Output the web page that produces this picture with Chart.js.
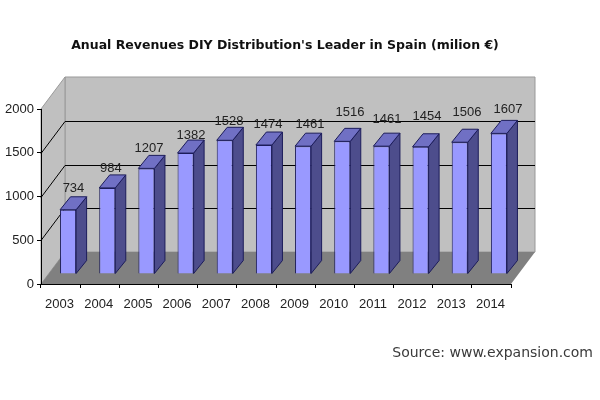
<!DOCTYPE html>
<html>
<head>
<meta charset="utf-8">
<script src="https://cdn.jsdelivr.net/npm/chart.js@4"></script>
<style>
    html, body { margin: 0; padding: 0; background: #fff; }
    #wrap   { position: absolute; left: 0; top: 0; width: 600px; height: 400px; }
    #source { position: absolute; right: 7px; top: 344px; font: 14px "DejaVu Sans", sans-serif; color: #3a3a3a; white-space: nowrap; }
</style>
</head>
<body>
<div id="wrap"><canvas id="graph" width="600" height="400"></canvas></div>
<div id="source">Source: www.expansion.com</div>
<script>
const years  = ["2003","2004","2005","2006","2007","2008","2009","2010","2011","2012","2013","2014"];
const sales  = [734,984,1207,1382,1528,1474,1461,1516,1461,1454,1506,1607];
const yTicks = [0,500,1000,1500,2000];

// depth of the fake 3D box, bar position inside it, and depth of one bar
const box_dx = 24, box_dy = -32;
const bar_dx = 7.5, bar_dy = -10;
const side_dx = 10.5, side_dy = -13;

// the value labels sit by hand in the original, so each one has its own shift from the bar top
const label_dx = [5.4,3.7,2.6,5.4,4.2,4.1,6.9,7.7,5.6,6.4,7.2,9.1];
const label_dy = [-21.8,-19.9,-20.4,-18,-19.3,-21,-22,-29,-27,-30,-30,-24];

function poly(ctx, pts, fill, stroke){
    ctx.beginPath();
    ctx.moveTo(pts[0][0], pts[0][1]);
    for (let i=1; i<pts.length; i++){
        ctx.lineTo(pts[i][0], pts[i][1]);
    }
    ctx.closePath();
    if (fill){ ctx.fillStyle = fill; ctx.fill(); }
    if (stroke){ ctx.strokeStyle = stroke; ctx.lineWidth = 1; ctx.stroke(); }
}

const box3d = {
    id: "box3d",
    afterLayout(chart){
        // title is centred over the whole box, walls included
        chart.titleBlock.left  = 0;
        chart.titleBlock.right = 570;
    },
    beforeDraw(chart){
        const ctx = chart.ctx;
        const a   = chart.chartArea;
        const y   = chart.scales.y;
        ctx.save();
        // back wall, left wall, floor
        poly(ctx, [[a.left+box_dx,a.top+box_dy],[a.right+box_dx,a.top+box_dy],[a.right+box_dx,a.bottom+box_dy],[a.left+box_dx,a.bottom+box_dy]], "#c0c0c0", "#999");
        poly(ctx, [[a.left,a.top],[a.left+box_dx,a.top+box_dy],[a.left+box_dx,a.bottom+box_dy],[a.left,a.bottom]], "#c0c0c0", "#999");
        poly(ctx, [[a.left,a.bottom],[a.right,a.bottom],[a.right+box_dx,a.bottom+box_dy],[a.left+box_dx,a.bottom+box_dy]], "#808080", null);
        // grid lines run across the left wall then along the back wall
        ctx.strokeStyle = "#000";
        ctx.lineWidth = 1;
        for (let t of yTicks){
            if (t === 0 || t === 2000) continue;
            let py = Math.round(y.getPixelForValue(t)) + 0.5;
            ctx.beginPath();
            ctx.moveTo(a.left, py);
            ctx.lineTo(a.left+box_dx, py+box_dy);
            ctx.lineTo(a.right+box_dx, py+box_dy);
            ctx.stroke();
        }
        ctx.restore();
    },
    beforeDatasetsDraw(chart){
        const ctx = chart.ctx;
        ctx.save();
        ctx.translate(bar_dx, bar_dy);
        for (let el of chart.getDatasetMeta(0).data){
            let l = el.x - el.width/2, r = el.x + el.width/2;
            poly(ctx, [[r,el.y],[r+side_dx,el.y+side_dy],[r+side_dx,el.base+side_dy],[r,el.base]], "#4d4d8c", "#1c1c5a");
            poly(ctx, [[l,el.y],[l+side_dx,el.y+side_dy],[r+side_dx,el.y+side_dy],[r,el.y]], "#7070c4", "#1c1c5a");
        }
    },
    afterDatasetsDraw(chart){
        const ctx = chart.ctx;
        ctx.restore();
        ctx.save();
        ctx.font = "13px 'Liberation Sans'";
        ctx.fillStyle = "#222";
        ctx.textAlign = "center";
        ctx.textBaseline = "middle";
        chart.getDatasetMeta(0).data.forEach(function(el, i){
            ctx.fillText(String(sales[i]), el.x + bar_dx + label_dx[i], el.y + bar_dy + label_dy[i]);
        });
        ctx.restore();
    }
};

const ctx = document.getElementById("graph").getContext("2d");
const myChart = new Chart(ctx, {
    type: "bar",
    data: {
        labels: years,
        datasets: [{
            data: sales,
            backgroundColor: "#9999ff",
            borderColor: "#1c1c5a",
            borderWidth: 1,
            categoryPercentage: 1,
            barPercentage: 0.41
        }]
    },
    options: {
        responsive: false,
        animation: false,
        layout: { padding: { left: 0, right: 89, top: 0, bottom: 86 } },
        scales: {
            x: {
                afterFit(scale){ scale.height = 30; },
                border: { color: "#000" },
                grid: { drawOnChartArea: false, tickColor: "#000", tickLength: 4 },
                ticks: { color: "#222", padding: 9, labelOffset: -1, maxRotation: 0, autoSkip: false, font: { family: "'Liberation Sans'", size: 13 } }
            },
            y: {
                min: 0,
                max: 2000,
                afterFit(scale){ scale.width = 41; },
                afterBuildTicks(scale){ scale.ticks = yTicks.map(v => ({ value: v })); },
                border: { color: "#000" },
                grid: { drawOnChartArea: false, tickColor: "#000", tickLength: 4 },
                ticks: { color: "#222", padding: 3, font: { family: "'Liberation Sans'", size: 13 } , callback: v => String(v) }
            }
        },
        plugins: {
            legend: { display: false },
            tooltip: { enabled: false },
            title: {
                display: true,
                text: "Anual Revenues DIY Distribution's Leader in Spain (milion €)",
                color: "#111",
                font: { family: "'DejaVu Sans'", size: 12.5, weight: "bold" },
                padding: { top: 38, bottom: 56 }
            }
        }
    },
    plugins: [box3d]
});
</script>
</body>
</html>
